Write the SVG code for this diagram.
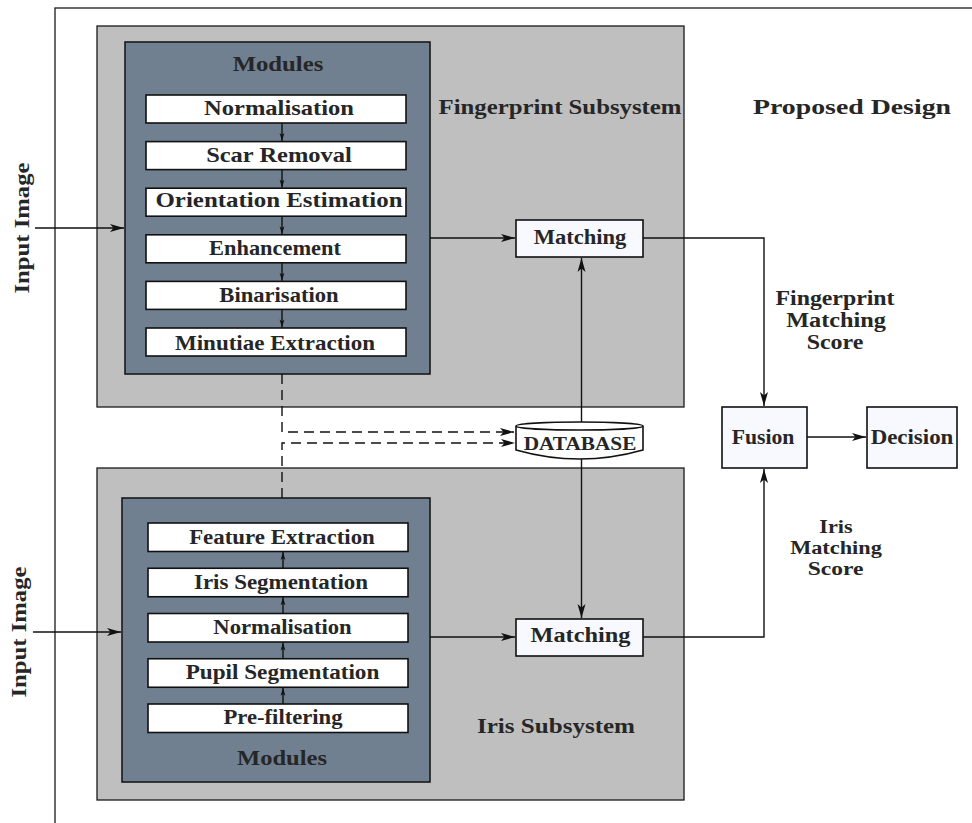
<svg xmlns="http://www.w3.org/2000/svg" width="972" height="823" viewBox="0 0 972 823">
  <style>
    text { font-family: "Liberation Serif", "Times New Roman", serif; font-weight: bold; fill: #262626; text-anchor: middle; }
    .t1 { font-size: 21.5px; }
    .t2 { font-size: 20px; }
    .t3 { font-size: 19px; }
    .t4 { font-size: 18px; }
    .frame { fill: none; stroke: #1a1a1a; stroke-width: 1.3; }
    .sub { fill: #bfbfbf; stroke: #1a1a1a; stroke-width: 1.3; }
    .mods { fill: #708090; stroke: #1a1a1a; stroke-width: 1.6; }
    .step { fill: #ffffff; stroke: #111; stroke-width: 1.6; }
    .proc { fill: #f8f8ff; stroke: #111; stroke-width: 1.6; }
    .wire { fill: none; stroke: #111; stroke-width: 1.4; }
    .dash { fill: none; stroke: #111; stroke-width: 1.4; stroke-dasharray: 10 6; }
  </style>
  <defs>
    <marker id="stealth" viewBox="0 -5 16 10" refX="14" refY="0" markerWidth="16" markerHeight="10" markerUnits="userSpaceOnUse" orient="auto">
      <path d="M0,-4 L14,0 L0,4 L3.5,0 Z" fill="#111"/>
    </marker>
    <marker id="stealth-s" viewBox="0 -3 9 6" refX="8" refY="0" markerWidth="9" markerHeight="6" markerUnits="userSpaceOnUse" orient="auto">
      <path d="M0,-2.4 L8,0 L0,2.4 L2,0 Z" fill="#111"/>
    </marker>
  </defs>

  <rect fill="#ffffff" x="0" y="0" width="972" height="823"/>

  <!-- outer frame -->
  <rect class="frame" x="55" y="8" width="1000" height="900"/>

  <!-- fingerprint subsystem -->
  <g id="fingerprint-subsystem">
    <rect class="sub" x="97" y="26" width="587" height="381"/>
    <text class="t1" x="560" y="114" textLength="243" lengthAdjust="spacingAndGlyphs">Fingerprint Subsystem</text>
  </g>
  <g id="fingerprint-modules">
    <rect class="mods" x="125" y="42" width="305" height="332"/>
    <text class="t1" x="278" y="71" textLength="90.7" lengthAdjust="spacingAndGlyphs">Modules</text>
  </g>
  <g id="fp-normalisation">
    <rect class="step" x="146" y="95" width="260" height="28"/>
    <text class="t1" x="279" y="114.5" textLength="150" lengthAdjust="spacingAndGlyphs">Normalisation</text>
  </g>
  <g id="fp-scar-removal">
    <rect class="step" x="146" y="141.6" width="260" height="28"/>
    <text class="t1" x="279" y="161.5" textLength="145.7" lengthAdjust="spacingAndGlyphs">Scar Removal</text>
  </g>
  <g id="fp-orientation">
    <rect class="step" x="146" y="188.2" width="260" height="28"/>
    <text class="t1" x="279" y="207" textLength="247" lengthAdjust="spacingAndGlyphs">Orientation Estimation</text>
  </g>
  <g id="fp-enhancement">
    <rect class="step" x="146" y="234.8" width="260" height="28"/>
    <text class="t1" x="275" y="254.5" textLength="132" lengthAdjust="spacingAndGlyphs">Enhancement</text>
  </g>
  <g id="fp-binarisation">
    <rect class="step" x="146" y="281.4" width="260" height="28"/>
    <text class="t1" x="279" y="302" textLength="119.3" lengthAdjust="spacingAndGlyphs">Binarisation</text>
  </g>
  <g id="fp-minutiae">
    <rect class="step" x="146" y="328" width="260" height="28"/>
    <text class="t1" x="275" y="350" textLength="200" lengthAdjust="spacingAndGlyphs">Minutiae Extraction</text>
  </g>
  <g id="fp-matching">
    <rect class="proc" x="516" y="220" width="127" height="37"/>
    <text class="t2" x="580" y="243.5" textLength="92.7" lengthAdjust="spacingAndGlyphs">Matching</text>
  </g>

  <!-- iris subsystem -->
  <g id="iris-subsystem">
    <rect class="sub" x="97" y="468" width="587" height="332"/>
    <text class="t2" x="556" y="733" textLength="158" lengthAdjust="spacingAndGlyphs">Iris Subsystem</text>
  </g>
  <g id="iris-modules">
    <rect class="mods" x="122" y="498" width="308" height="284"/>
    <text class="t2" x="282" y="765" textLength="90" lengthAdjust="spacingAndGlyphs">Modules</text>
  </g>
  <g id="iris-feature-extraction">
    <rect class="step" x="148" y="523" width="260" height="28.5"/>
    <text class="t2" x="282" y="544" textLength="185.7" lengthAdjust="spacingAndGlyphs">Feature Extraction</text>
  </g>
  <g id="iris-segmentation">
    <rect class="step" x="148" y="568.25" width="260" height="28.5"/>
    <text class="t2" x="281" y="589" textLength="174" lengthAdjust="spacingAndGlyphs">Iris Segmentation</text>
  </g>
  <g id="iris-normalisation">
    <rect class="step" x="148" y="613.5" width="260" height="28.5"/>
    <text class="t2" x="282.5" y="634" textLength="138.3" lengthAdjust="spacingAndGlyphs">Normalisation</text>
  </g>
  <g id="iris-pupil-segmentation">
    <rect class="step" x="148" y="658.75" width="260" height="28.5"/>
    <text class="t2" x="282.5" y="679" textLength="193.7" lengthAdjust="spacingAndGlyphs">Pupil Segmentation</text>
  </g>
  <g id="iris-prefiltering">
    <rect class="step" x="148" y="704" width="260" height="28.5"/>
    <text class="t2" x="283" y="724" textLength="119" lengthAdjust="spacingAndGlyphs">Pre-filtering</text>
  </g>
  <g id="iris-matching">
    <rect class="proc" x="516" y="619" width="127" height="37"/>
    <text class="t2" x="580.5" y="642" textLength="100" lengthAdjust="spacingAndGlyphs">Matching</text>
  </g>

  <!-- shared template store -->
  <g id="database">
    <path d="M516,426 V450 Q579.5,468 643,450 V426" fill="#ffffff" stroke="#111" stroke-width="1.6"/>
    <ellipse cx="579.5" cy="426" rx="63.5" ry="4" fill="#ffffff" stroke="#111" stroke-width="1.6"/>
    <text class="t3" x="580" y="449.5" textLength="112.7" lengthAdjust="spacingAndGlyphs">DATABASE</text>
  </g>

  <!-- score fusion and decision -->
  <g id="fusion">
    <rect class="proc" x="722" y="407" width="85" height="61"/>
    <text class="t2" x="763" y="444" textLength="62.7" lengthAdjust="spacingAndGlyphs">Fusion</text>
  </g>
  <g id="decision">
    <rect class="proc" x="867" y="407" width="90" height="61"/>
    <text class="t2" x="912" y="444" textLength="82.7" lengthAdjust="spacingAndGlyphs">Decision</text>
  </g>

  <!-- free labels -->
  <g id="labels">
    <text class="t1" x="852" y="114" textLength="198" lengthAdjust="spacingAndGlyphs">Proposed Design</text>
    <text class="t2" x="835" y="305" textLength="119" lengthAdjust="spacingAndGlyphs">Fingerprint</text>
    <text class="t2" x="836" y="327" textLength="99.7" lengthAdjust="spacingAndGlyphs">Matching</text>
    <text class="t2" x="835" y="349" textLength="56.7" lengthAdjust="spacingAndGlyphs">Score</text>
    <text class="t4" x="836" y="533" textLength="33.3" lengthAdjust="spacingAndGlyphs">Iris</text>
    <text class="t4" x="836" y="554" textLength="91.7" lengthAdjust="spacingAndGlyphs">Matching</text>
    <text class="t4" x="835.5" y="575" textLength="55.7" lengthAdjust="spacingAndGlyphs">Score</text>
    <text class="t1" transform="translate(29,228) rotate(-90)" x="0" y="0" textLength="131" lengthAdjust="spacingAndGlyphs">Input Image</text>
    <text class="t1" transform="translate(26,632) rotate(-90)" x="0" y="0" textLength="131" lengthAdjust="spacingAndGlyphs">Input Image</text>
  </g>

  <!-- connectors -->
  <g id="connectors">
    <path class="wire" d="M35,228 H124" marker-end="url(#stealth)"/>
    <path class="wire" d="M33,632 H121" marker-end="url(#stealth)"/>

    <path class="wire" d="M282,123 V141" marker-end="url(#stealth-s)"/>
    <path class="wire" d="M282,169.6 V187.6" marker-end="url(#stealth-s)"/>
    <path class="wire" d="M282,216.2 V234.2" marker-end="url(#stealth-s)"/>
    <path class="wire" d="M282,262.8 V280.8" marker-end="url(#stealth-s)"/>
    <path class="wire" d="M282,309.4 V327.4" marker-end="url(#stealth-s)"/>

    <path class="wire" d="M283,704 V687.8" marker-end="url(#stealth-s)"/>
    <path class="wire" d="M283,658.75 V642.5" marker-end="url(#stealth-s)"/>
    <path class="wire" d="M283,613.5 V597.3" marker-end="url(#stealth-s)"/>
    <path class="wire" d="M283,568.25 V552" marker-end="url(#stealth-s)"/>

    <path class="wire" d="M430,238 H515" marker-end="url(#stealth)"/>
    <path class="wire" d="M430,637 H515" marker-end="url(#stealth)"/>
    <path class="wire" d="M643,238 H764 V406" marker-end="url(#stealth)"/>
    <path class="wire" d="M643,637 H764 V469" marker-end="url(#stealth)"/>
    <path class="wire" d="M807,437 H866" marker-end="url(#stealth)"/>

    <path class="wire" d="M581.5,422 V258" marker-end="url(#stealth)"/>
    <path class="wire" d="M581.5,459 V618" marker-end="url(#stealth)"/>

    <path class="dash" d="M282,374 V432 H514" marker-end="url(#stealth)"/>
    <path class="dash" d="M282,498 V443 H515" marker-end="url(#stealth)"/>
  </g>
</svg>
